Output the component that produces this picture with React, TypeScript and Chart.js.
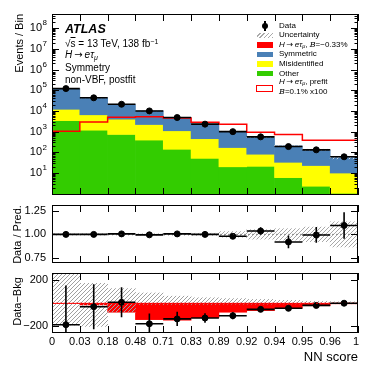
import React, { useEffect, useRef } from "react";
import { Chart, registerables } from "chart.js";
Chart.register(...registerables);

const FONT = '"Liberation Sans", Arial, Helvetica, sans-serif';

// ---------------- data ----------------
const binEdges = ["0", "0.03", "0.18", "0.48", "0.71", "0.83", "0.89", "0.92", "0.94", "0.95", "0.96", "1"];
const dataEvents = [120000, 43000, 21000, 10000, 4800, 2300, 1000, 560, 190, 132, 61];
const symmetricBkg = [108000, 36500, 16900, 7850, 3680, 1845, 850, 460, 173, 110, 46];
const misidBkg = [8600, 5330, 3270, 1810, 960, 404, 150, 60, 27, 20.7, 8.95];
const otherBkg = [3400, 1170, 730, 390, 140, 51, 20, 21, 6, 2.3, 1.05];
const prefitSignalX100 = [230, 1050, 2900, 5000, 5200, 4500, 2800, 2250, 940, 730, 380];
const ratioValues = [1.0, 1.0, 1.005, 0.995, 1.005, 1.0, 0.98, 1.035, 0.92, 0.994, 1.094];
const ratioErrors = [0.003, 0.005, 0.007, 0.01, 0.015, 0.02, 0.03, 0.04, 0.067, 0.083, 0.14];
const ratioUncert = [0.008, 0.008, 0.008, 0.008, 0.01, 0.012, 0.03, 0.05, 0.06, 0.077, 0.133];
const diffValues = [-186, -30, 8, -178, -136, -128, -108, -53, -44, -19, 0];
const diffErrors = [340, 195, 130, 90, 62, 42, 30, 22, 14, 11, 8];
const signalPostfit = [-3, -15, -78, -142, -147, -125, -78, -64, -42, -22, -5];
const diffUncertHigh = [300, 172, 127, 89, 61, 47, 40, 33, 25, 17, 12];
const diffUncertLow = [-190, -200, -78, -10, -10, -10, -8, -8, -6, -5, -5];
const mainYDecades = [1, 2, 3, 4, 5, 6, 7, 8];
const ratioYTicks = ["0.75", "1.00", "1.25"];
const diffYTicks = ["-200", "200"];

const MAIN_MIN = 0.87;
const MAIN_MAX = 4.8e8;

const COLORS = {
  symmetric: "#4a80b6",
  misid: "#ffff00",
  other: "#33cc00",
  signal: "#ff0000",
};

function makeHatch(color: string, spacing = 4, lw = 1) {
  const c = document.createElement("canvas");
  c.width = spacing;
  c.height = spacing;
  const g = c.getContext("2d")!;
  g.strokeStyle = color;
  g.lineWidth = lw;
  g.beginPath();
  g.moveTo(0, spacing);
  g.lineTo(spacing, 0);
  g.moveTo(-spacing / 2, spacing / 2);
  g.lineTo(spacing / 2, -spacing / 2);
  g.moveTo(spacing / 2, spacing * 1.5);
  g.lineTo(spacing * 1.5, spacing / 2);
  g.stroke();
  return g.createPattern(c, "repeat")!;
}

type PanelCfg = {
  id: string;
  majors: number[];
  minors: number[];
  drawYLabels: (ctx: CanvasRenderingContext2D, ys: any, a: any) => void;
  xLabels?: boolean;
  title: { text: string; x: number; y: number; align: "center" | "right" };
  values: number[];
  errs: number[];
  log?: boolean;
  refLine?: { v: number; color: string; dash: number[] };
  xTitle?: { text: string; y: number };
};

function panelPlugin(cfg: PanelCfg) {
  return {
    id: "panel_" + cfg.id,
    afterDatasetsDraw(chart: any) {
      const { ctx, chartArea: a } = chart;
      const xs = chart.scales.xl;
      const ys = chart.scales.y;
      ctx.save();
      ctx.beginPath();
      ctx.rect(a.left, a.top, a.right - a.left, a.bottom - a.top);
      ctx.clip();
      if (cfg.refLine) {
        const y = ys.getPixelForValue(cfg.refLine.v);
        ctx.strokeStyle = cfg.refLine.color;
        ctx.lineWidth = 1;
        ctx.setLineDash(cfg.refLine.dash);
        ctx.beginPath();
        ctx.moveTo(a.left, y);
        ctx.lineTo(a.right, y);
        ctx.stroke();
        ctx.setLineDash([]);
      }
      ctx.strokeStyle = "#000";
      ctx.lineWidth = 1.6;
      for (let i = 0; i < cfg.values.length; i++) {
        const v = cfg.values[i];
        const e = cfg.errs[i];
        const y = ys.getPixelForValue(v);
        const x0 = xs.getPixelForValue(i);
        const x1 = xs.getPixelForValue(i + 1);
        const xc = xs.getPixelForValue(i + 0.5);
        ctx.beginPath();
        ctx.moveTo(x0, y);
        ctx.lineTo(x1, y);
        const lo = cfg.log ? Math.max(v - e, MAIN_MIN * 0.5) : v - e;
        ctx.moveTo(xc, ys.getPixelForValue(lo));
        ctx.lineTo(xc, ys.getPixelForValue(v + e));
        ctx.stroke();
      }
      ctx.restore();

      // frame
      ctx.save();
      ctx.strokeStyle = "#000";
      ctx.lineWidth = 1;
      ctx.strokeRect(a.left + 0.5, a.top + 0.5, a.right - a.left - 1, a.bottom - a.top - 1);
      ctx.beginPath();
      for (let i = 0; i <= 11; i++) {
        const x = Math.round(xs.getPixelForValue(i)) + 0.5;
        ctx.moveTo(x, a.top);
        ctx.lineTo(x, a.top + 7);
        ctx.moveTo(x, a.bottom);
        ctx.lineTo(x, a.bottom - 7);
      }
      for (const m of cfg.majors) {
        const y = Math.round(ys.getPixelForValue(m)) + 0.5;
        if (y < a.top || y > a.bottom) continue;
        ctx.moveTo(a.left, y);
        ctx.lineTo(a.left + 7, y);
        ctx.moveTo(a.right, y);
        ctx.lineTo(a.right - 7, y);
      }
      for (const m of cfg.minors) {
        const y = Math.round(ys.getPixelForValue(m)) + 0.5;
        if (y < a.top || y > a.bottom) continue;
        ctx.moveTo(a.left, y);
        ctx.lineTo(a.left + 3.5, y);
        ctx.moveTo(a.right, y);
        ctx.lineTo(a.right - 3.5, y);
      }
      ctx.stroke();

      ctx.fillStyle = "#000";
      cfg.drawYLabels(ctx, ys, a);

      if (cfg.xLabels) {
        ctx.font = `11px ${FONT}`;
        ctx.textAlign = "center";
        ctx.textBaseline = "middle";
        for (let i = 0; i <= 11; i++) {
          const x = xs.getPixelForValue(i);
          ctx.fillText(binEdges[i], i === 11 ? x - 2 : x, a.bottom + 9);
        }
      }
      if (cfg.xTitle) {
        ctx.font = `13px ${FONT}`;
        ctx.textAlign = "right";
        ctx.textBaseline = "middle";
        ctx.fillText(cfg.xTitle.text, a.right, cfg.xTitle.y);
      }
      // y title
      ctx.save();
      ctx.font = `11px ${FONT}`;
      ctx.translate(cfg.title.x, cfg.title.y);
      ctx.rotate(-Math.PI / 2);
      ctx.textAlign = cfg.title.align;
      ctx.textBaseline = "middle";
      ctx.fillText(cfg.title.text, 0, 0);
      ctx.restore();
      ctx.restore();
    },
  };
}

const idx = binEdges.slice(0, 11).map((_, i) => String(i));

function baseOptions(padding: any, yScale: any) {
  return {
    animation: false as const,
    responsive: false,
    events: [] as any[],
    layout: { padding },
    plugins: { legend: { display: false }, tooltip: { enabled: false } },
    scales: {
      x: { type: "category", display: false, offset: true },
      xl: { type: "linear", display: false, min: 0, max: 11, offset: false },
      y: { display: false, ...yScale },
    },
  };
}

export default function App() {
  const c1 = useRef<HTMLCanvasElement>(null);
  const c2 = useRef<HTMLCanvasElement>(null);
  const c3 = useRef<HTMLCanvasElement>(null);

  useEffect(() => {
    const hatch = makeHatch("#a8a8a8", 4, 1);
    const hatchDiff = makeHatch("#a0a0a0", 4, 1);
    const barCommon = { grouped: false, barPercentage: 1, categoryPercentage: 1, borderWidth: 0 };

    const totals = symmetricBkg.map((s, i) => s + misidBkg[i] + otherBkg[i]);
    const mainMinors: number[] = [];
    for (let d = 0; d <= 8; d++) for (let k = 2; k <= 9; k++) mainMinors.push(k * Math.pow(10, d));

    const main = new Chart(c1.current!, {
      type: "bar",
      data: {
        labels: idx,
        datasets: [
          {
            ...barCommon,
            order: 10,
            backgroundColor: COLORS.other,
            data: otherBkg.map((o) => [MAIN_MIN * 0.5, o]),
          } as any,
          {
            ...barCommon,
            order: 9,
            backgroundColor: COLORS.misid,
            data: otherBkg.map((o, i) => [o, o + misidBkg[i]]),
          },
          {
            ...barCommon,
            order: 8,
            backgroundColor: COLORS.symmetric,
            data: otherBkg.map((o, i) => [o + misidBkg[i], totals[i]]),
          },
          {
            ...barCommon,
            order: 7,
            backgroundColor: makeHatch("rgba(230,230,230,0.9)", 4, 1),
            data: totals.map((t, i) => [t * (1 - ratioUncert[i]), t * (1 + ratioUncert[i])]),
          },
          {
            type: "line",
            order: 5,
            xAxisID: "xl",
            borderColor: COLORS.signal,
            borderWidth: 1.5,
            pointRadius: 0,
            stepped: "after",
            fill: false,
            data: [...prefitSignalX100.map((v, i) => ({ x: i, y: v })), { x: 11, y: prefitSignalX100[10] }],
          } as any,
          {
            type: "line",
            order: 1,
            xAxisID: "xl",
            showLine: false,
            pointRadius: 3,
            pointBackgroundColor: "#000",
            pointBorderColor: "#000",
            data: dataEvents.map((v, i) => ({ x: i + 0.5, y: v })),
          } as any,
        ],
      },
      options: baseOptions({ left: 52, right: 16, top: 14, bottom: 2 }, { type: "logarithmic", min: MAIN_MIN, max: MAIN_MAX }) as any,
      plugins: [
        panelPlugin({
          id: "main",
          majors: [1, ...mainYDecades.map((d) => Math.pow(10, d))],
          minors: mainMinors,
          log: true,
          values: dataEvents,
          errs: dataEvents.map((v) => Math.sqrt(v)),
          title: { text: "Events / Bin", x: 20, y: 14, align: "right" },
          drawYLabels: (ctx, ys, a) => {
            ctx.textBaseline = "middle";
            for (const d of mainYDecades) {
              const y = ys.getPixelForValue(Math.pow(10, d));
              ctx.font = `8px ${FONT}`;
              ctx.textAlign = "right";
              const ex = String(d);
              const exW = ctx.measureText(ex).width;
              ctx.fillText(ex, a.left - 5, y - 5);
              ctx.font = `11px ${FONT}`;
              ctx.fillText("10", a.left - 5 - exW - 0.5, y);
            }
          },
        }),
      ],
    });

    const ratio = new Chart(c2.current!, {
      type: "bar",
      data: {
        labels: idx,
        datasets: [
          {
            ...barCommon,
            order: 5,
            backgroundColor: hatch,
            data: ratioUncert.map((r) => [1 - r, 1 + r]),
          } as any,
          {
            type: "line",
            order: 1,
            xAxisID: "xl",
            showLine: false,
            pointRadius: 3,
            pointBackgroundColor: "#000",
            pointBorderColor: "#000",
            data: ratioValues.map((v, i) => ({ x: i + 0.5, y: v })),
          } as any,
        ],
      },
      options: baseOptions({ left: 52, right: 16, top: 3, bottom: 2 }, { type: "linear", min: 0.698, max: 1.31 }) as any,
      plugins: [
        panelPlugin({
          id: "ratio",
          majors: ratioYTicks.map(Number),
          minors: [],
          values: ratioValues,
          errs: ratioErrors,
          refLine: { v: 1, color: "#888", dash: [2, 2] },
          title: { text: "Data / Pred.", x: 18, y: 34.5, align: "center" },
          drawYLabels: (ctx, ys, a) => {
            ctx.font = `11px ${FONT}`;
            ctx.textAlign = "right";
            ctx.textBaseline = "middle";
            for (const t of ratioYTicks) ctx.fillText(t, a.left - 6, ys.getPixelForValue(Number(t)));
          },
        }),
      ],
    });

    const diff = new Chart(c3.current!, {
      type: "bar",
      data: {
        labels: idx,
        datasets: [
          {
            ...barCommon,
            order: 6,
            backgroundColor: COLORS.signal,
            data: signalPostfit.map((s) => [s, 0]),
          } as any,
          {
            ...barCommon,
            order: 5,
            backgroundColor: hatchDiff,
            data: diffUncertLow.map((l, i) => [l, diffUncertHigh[i]]),
          },
          {
            type: "line",
            order: 1,
            xAxisID: "xl",
            showLine: false,
            pointRadius: 3,
            pointBackgroundColor: "#000",
            pointBorderColor: "#000",
            data: diffValues.map((v, i) => ({ x: i + 0.5, y: v })),
          } as any,
        ],
      },
      options: baseOptions({ left: 52, right: 16, top: 2, bottom: 41 }, { type: "linear", min: -258, max: 262 }) as any,
      plugins: [
        panelPlugin({
          id: "diff",
          majors: diffYTicks.map(Number),
          minors: [],
          values: diffValues,
          errs: diffErrors,
          refLine: { v: 0, color: "#ff0000", dash: [2, 2] },
          xLabels: true,
          xTitle: { text: "NN score", y: 89 },
          title: { text: "Data\u2212Bkg", x: 18, y: 33.5, align: "center" },
          drawYLabels: (ctx, ys, a) => {
            ctx.font = `11px ${FONT}`;
            ctx.textAlign = "right";
            ctx.textBaseline = "middle";
            for (const t of diffYTicks)
              ctx.fillText(t.replace("-", "\u2212"), a.left - 4, ys.getPixelForValue(Number(t)));
          },
        }),
      ],
    });

    return () => {
      main.destroy();
      ratio.destroy();
      diff.destroy();
    };
  }, []);

  const txt = (y: number, size: number, lh: number) => ({
    position: "absolute" as const,
    top: y - lh / 2,
    fontSize: size,
    lineHeight: `${lh}px`,
    whiteSpace: "nowrap" as const,
  });

  const Heta = (
    <span>
      <i>H</i>
      <span style={{ fontFamily: "'DejaVu Sans', sans-serif" }}>{"\u2009→\u2009"}</span>
      <i>eτ</i>
      <sub style={{ fontSize: "0.7em", verticalAlign: "-0.25em" }}>
        <i>μ</i>
      </sub>
    </span>
  );

  const legendRows: { y: number; label: React.ReactNode; marker: React.ReactNode }[] = [
    {
      y: 25.5,
      label: "Data",
      marker: (
        <div style={{ position: "absolute", left: 262, top: 22.5, width: 6, height: 6, borderRadius: 3, background: "#000" }} />
      ),
    },
    {
      y: 35,
      label: "Uncertainty",
      marker: (
        <div
          style={{
            position: "absolute",
            left: 257,
            top: 32.5,
            width: 16,
            height: 5,
            background: "repeating-linear-gradient(-45deg, #aaa 0 1px, #fff 1px 3px)",
          }}
        />
      ),
    },
    {
      y: 44.5,
      label: (
        <span>
          {Heta}, <i style={{ fontFamily: "'DejaVu Serif', serif" }}>B</i>=−0.33%
        </span>
      ),
      marker: <div style={{ position: "absolute", left: 257, top: 41.5, width: 16, height: 6, background: COLORS.signal }} />,
    },
    {
      y: 54.3,
      label: "Symmetric",
      marker: <div style={{ position: "absolute", left: 257, top: 51.5, width: 16, height: 5.5, background: COLORS.symmetric }} />,
    },
    {
      y: 64,
      label: "Misidentified",
      marker: <div style={{ position: "absolute", left: 257, top: 61.2, width: 16, height: 5.5, background: COLORS.misid }} />,
    },
    {
      y: 73.5,
      label: "Other",
      marker: <div style={{ position: "absolute", left: 257, top: 70.7, width: 16, height: 5.5, background: COLORS.other }} />,
    },
    {
      y: 82,
      label: <span>{Heta}, prefit</span>,
      marker: (
        <div
          style={{
            position: "absolute",
            left: 256,
            top: 85,
            width: 15,
            height: 5,
            border: `1.3px solid ${COLORS.signal}`,
            background: "#fff",
          }}
        />
      ),
    },
    {
      y: 91.5,
      label: (
        <span>
          <i style={{ fontFamily: "'DejaVu Serif', serif" }}>B</i>=0.1% x100
        </span>
      ),
      marker: null,
    },
  ];

  return (
    <div style={{ position: "absolute", left: 0, top: 0, width: 374, height: 374, background: "#fff", fontFamily: FONT, color: "#000" }}>
      <canvas ref={c1} width={374} height={200} style={{ position: "absolute", left: 0, top: 0 }} />
      <canvas ref={c2} width={374} height={68} style={{ position: "absolute", left: 0, top: 200 }} />
      <canvas ref={c3} width={374} height={106} style={{ position: "absolute", left: 0, top: 268 }} />

      <div style={{ ...txt(29, 12.5, 14), left: 65, fontWeight: "bold", fontStyle: "italic" }}>ATLAS</div>
      <div style={{ ...txt(42, 10, 12), left: 65 }}>
        √<span style={{ textDecoration: "overline" }}>s</span> = 13 TeV, 138 fb
        <sup style={{ fontSize: "0.7em", verticalAlign: "0.45em" }}>−1</sup>
      </div>
      <div style={{ ...txt(54.5, 10, 12), left: 65 }}>{Heta}</div>
      <div style={{ ...txt(67.5, 10, 12), left: 65 }}>Symmetry</div>
      <div style={{ ...txt(80, 10, 12), left: 65 }}>non-VBF, postfit</div>

      <div style={{ position: "absolute", left: 264.2, top: 20.5, width: 1.6, height: 10, background: "#000" }} />
      {legendRows.map((r, i) => (
        <React.Fragment key={i}>
          {r.marker}
          <div style={{ ...txt(r.y, 8, 10), left: 279 }}>{r.label}</div>
        </React.Fragment>
      ))}
    </div>
  );
}
